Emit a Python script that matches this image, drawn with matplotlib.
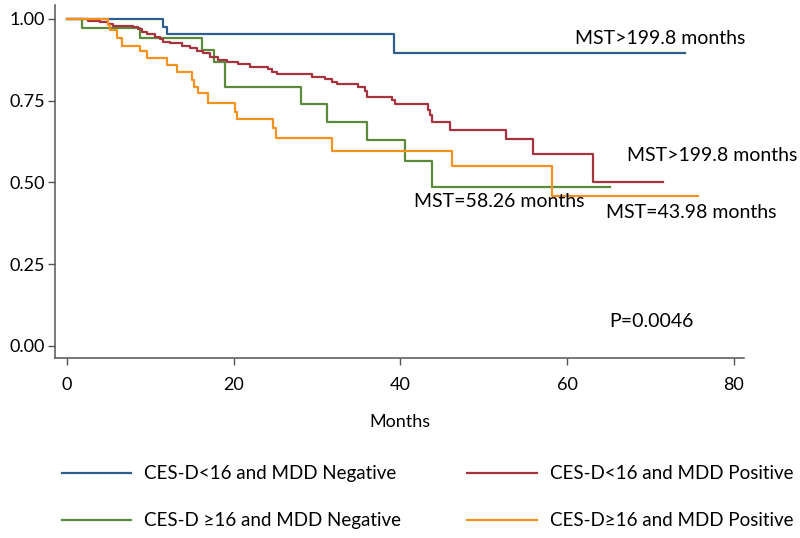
import matplotlib
matplotlib.use("Agg")
import matplotlib.pyplot as plt
from matplotlib.lines import Line2D

# Kaplan-Meier steps (months, survival)
blue_t = [0, 11.56, 11.96, 39.2, 74.2]
blue_s = [1.0, 0.976, 0.954, 0.895, 0.895]

green_t = [0, 1.76, 8.7, 16.2, 17.6, 19.0, 28.1, 31.2, 36.0, 40.6, 43.8, 65.2]
green_s = [1.0, 0.971, 0.941, 0.905, 0.868, 0.793, 0.739, 0.685, 0.629, 0.567, 0.487, 0.487]

red_t = [0, 2.56, 3.96, 4.96, 5.56, 7.96, 8.56, 8.96, 9.56, 10.56, 11.16, 11.56,
         12.36, 13.76, 14.76, 15.56, 16.36, 17.16, 18.16, 19.16, 20.56, 21.96,
         24.16, 24.56, 25.16, 29.36, 30.96, 31.76, 32.36, 34.96, 35.76, 35.96,
         38.96, 39.36, 43.28, 43.56, 43.76, 45.96, 52.68, 55.88, 63.16, 71.56]
red_s = [1.0, 0.995, 0.990, 0.985, 0.980, 0.976, 0.969, 0.961, 0.953, 0.946, 0.938, 0.931,
         0.926, 0.918, 0.910, 0.903, 0.895, 0.885, 0.875, 0.868, 0.861, 0.852,
         0.846, 0.839, 0.832, 0.824, 0.817, 0.808, 0.801, 0.793, 0.781, 0.762,
         0.752, 0.739, 0.722, 0.706, 0.684, 0.661, 0.632, 0.586, 0.502, 0.502]

orange_t = [0, 4.96, 5.16, 5.96, 6.56, 8.76, 9.56, 11.96, 13.16, 14.96, 15.24, 15.76,
            16.96, 20.16, 20.36, 24.76, 25.08, 31.76, 46.24, 58.16, 75.7]
orange_s = [1.0, 0.982, 0.966, 0.941, 0.918, 0.902, 0.882, 0.859, 0.839, 0.813, 0.793, 0.773,
            0.744, 0.717, 0.693, 0.666, 0.636, 0.596, 0.551, 0.460, 0.460]

labels = ["CES-D<16 and MDD Negative", "CES-D \u226516 and MDD Negative",
          "CES-D<16 and MDD Positive", "CES-D\u226516 and MDD Positive"]
colors = ["#2e5e8e", "#5b8a3c", "#a6343f", "#f5921e"]

x_ticks = [0, 20, 40, 60, 80]
y_ticks = [0.0, 0.25, 0.5, 0.75, 1.0]

mst_texts = ["MST>199.8 months", "MST>199.8 months", "MST=58.26 months", "MST=43.98 months"]
p_text = "P=0.0046"

FONT = ["Lato", "DejaVu Sans"]
plt.rcParams["font.family"] = FONT

fig = plt.figure(figsize=(8, 5.38), dpi=100)
ax = fig.add_axes([0.06875, 0.3346, 0.86125, 0.6561])

series = [(blue_t, blue_s), (green_t, green_s), (red_t, red_s), (orange_t, orange_s)]
for (t, s), c in zip(series, colors):
    ax.step(t, s, where="post", color=c, lw=1.6)

ax.set_xlim(-1.44, 81.24)
ax.set_ylim(-0.0367, 1.0428)
ax.set_xticks(x_ticks)
ax.set_yticks(y_ticks)
ax.set_yticklabels([f"{v:.2f}" for v in y_ticks])
for side in ["top", "right"]:
    ax.spines[side].set_visible(False)
for side in ["left", "bottom"]:
    ax.spines[side].set_color("#555555")
    ax.spines[side].set_linewidth(1.1)
ax.tick_params(axis="both", direction="out", length=5, width=1, color="#555555",
               labelsize=13, labelcolor="black")
ax.tick_params(axis="y", pad=2)
ax.tick_params(axis="x", pad=9)
ax.set_xlabel("Months", fontsize=13, labelpad=15)

# annotations
ax.text(60.96, 0.939, mst_texts[0], fontsize=14, va="center", ha="left")
ax.text(67.16, 0.584, mst_texts[1], fontsize=14, va="center", ha="left")
ax.text(41.64, 0.441, mst_texts[2], fontsize=14, va="center", ha="left")
ax.text(64.64, 0.408, mst_texts[3], fontsize=14, va="center", ha="left")
ax.text(65.04, 0.074, p_text, fontsize=14, va="center", ha="left")

handles = [Line2D([], [], color=c, lw=1.6) for c in colors]
leg_kw = dict(frameon=False, fontsize=13.5, handlelength=3.7, handletextpad=0.7,
              labelspacing=1.6, borderpad=0, borderaxespad=0, loc="center left")
fig.legend(handles[:2], labels[:2], bbox_to_anchor=(0.0775, 0.0753), **leg_kw)
fig.legend(handles[2:], labels[2:], bbox_to_anchor=(0.584, 0.0753), **leg_kw)

fig.savefig("out.png", dpi=100)
